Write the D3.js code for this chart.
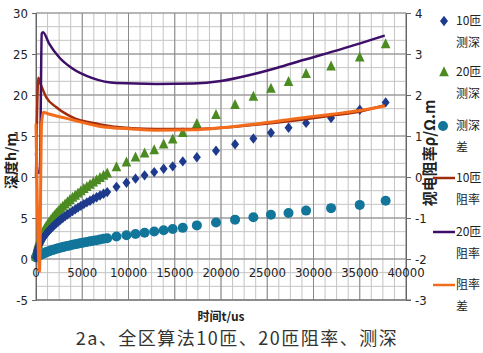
<!DOCTYPE html>
<html>
<head>
<meta charset="utf-8">
<script src="https://cdn.jsdelivr.net/npm/d3@7"></script>
<style>
body { margin: 0; background: #fff; }
svg text { font-family: "Liberation Sans Narrow", "DejaVu Sans Condensed", "Noto Sans CJK SC", sans-serif; fill: #222; }
.cjk { font-family: "Noto Sans CJK SC", sans-serif; }
</style>
</head>
<body>
<div id="chart"></div>
<script>
// sounding depth (left axis, m) at each time gate (us)
const times = [0, 40, 100, 170, 250, 340, 440, 550, 670, 800, 940, 1090, 1250, 1420, 1600, 1790, 1990, 2200, 2420, 2650, 2890, 3140, 3400, 3670, 3950, 4240, 4540, 4850, 5170, 5500, 5840, 6190, 6550, 6920, 7300, 7700, 8700, 9780, 10760, 11740, 12780, 13800, 14780, 15870, 17390, 19460, 21520, 23500, 25400, 27300, 29200, 31900, 35000, 37800];
const depth10 = [0.2, 0.6, 0.93, 1.2, 1.47, 1.71, 1.95, 2.18, 2.4, 2.63, 2.85, 3.07, 3.29, 3.5, 3.72, 3.93, 4.15, 4.36, 4.57, 4.79, 5.0, 5.21, 5.42, 5.63, 5.84, 6.05, 6.27, 6.48, 6.69, 6.9, 7.11, 7.32, 7.53, 7.74, 7.95, 8.16, 8.8, 9.3, 9.8, 10.2, 10.6, 11.0, 11.3, 11.9, 12.4, 13.2, 14.0, 14.7, 15.4, 16.0, 16.6, 17.2, 18.2, 19.1];
const depth20 = [0.3, 0.75, 1.2, 1.55, 1.88, 2.19, 2.5, 2.8, 3.08, 3.37, 3.65, 3.93, 4.2, 4.48, 4.76, 5.03, 5.31, 5.58, 5.85, 6.12, 6.4, 6.67, 6.94, 7.21, 7.48, 7.75, 8.02, 8.29, 8.56, 8.82, 9.09, 9.36, 9.63, 9.9, 10.17, 10.44, 11.2, 11.8, 12.4, 12.9, 13.3, 14.0, 14.6, 15.4, 16.5, 17.6, 18.8, 19.8, 20.8, 21.6, 22.6, 23.5, 24.6, 26.2];
const depthDiff = [0.2, 0.25, 0.3, 0.35, 0.4, 0.45, 0.5, 0.55, 0.62, 0.68, 0.75, 0.82, 0.89, 0.96, 1.03, 1.1, 1.17, 1.24, 1.31, 1.38, 1.45, 1.52, 1.59, 1.66, 1.73, 1.8, 1.87, 1.94, 2.01, 2.08, 2.15, 2.22, 2.3, 2.38, 2.46, 2.54, 2.75, 2.9, 3.05, 3.2, 3.35, 3.5, 3.65, 3.8, 4.1, 4.45, 4.8, 5.1, 5.4, 5.6, 5.9, 6.2, 6.6, 7.1];

// apparent resistivity (right axis, ohm.m)
const rhoTimes10 = [0, 250, 450, 1100, 2200, 3900, 6800, 10400, 13000, 17000, 20000, 24000, 28000, 32000, 35000, 37700];
const rho10 = [0.0, 2.42, 2.3, 1.95, 1.70, 1.46, 1.29, 1.19, 1.17, 1.17, 1.2, 1.28, 1.38, 1.5, 1.6, 1.75];
const rhoTimes20 = [0, 200, 420, 620, 760, 1400, 2500, 3900, 6100, 8700, 13000, 17000, 20000, 23000, 26000, 29000, 33000, 37700];
const rho20 = [0.58, 0.1, 0.12, 3.5, 3.53, 3.26, 2.92, 2.65, 2.41, 2.29, 2.27, 2.28, 2.34, 2.48, 2.66, 2.86, 3.12, 3.45];
const rhoTimesDiff = [0, 380, 600, 800, 1200, 3300, 6800, 10400, 13000, 17000, 20000, 24000, 28000, 32000, 35000, 37700];
const rhoDiff = [1.3, -2.3, 1.3, 1.58, 1.55, 1.43, 1.24, 1.17, 1.14, 1.15, 1.2, 1.3, 1.42, 1.53, 1.62, 1.73];

const xTicks = [0, 5000, 10000, 15000, 20000, 25000, 30000, 35000, 40000];
const leftTicks = [-5, 0, 5, 10, 15, 20, 25, 30];
const rightTicks = [-3, -2, -1, 0, 1, 2, 3, 4];
const legendLabels = [["10匝", "测深"], ["20匝", "测深"], ["测深", "差"], ["10匝", "阻率"], ["20匝", "阻率"], ["阻率", "差"]];

(function chart(){
let width = 483,
    height = 353,
    margin = ({top: 13, right: 77, bottom: 53, left: 36});

const svg = d3.select("#chart")
    .append("svg")
    .attr("width", width)
    .attr("height", height)
    .attr("viewBox", [0, 0, width, height]);

const x0 = margin.left, x1 = width - margin.right,
      y0 = height - margin.bottom, y1 = margin.top;

let x = d3.scaleLinear().domain([0, 40000]).range([x0, x1]);
let yL = d3.scaleLinear().domain([-5, 30]).range([y0, y1]);
let yR = d3.scaleLinear().domain([-3, 4]).range([y0, y1]);

// grid
const grid = svg.append("g");
grid.selectAll(".vmin")
    .data(d3.range(0, 40001, 1250))
    .join("line")
    .attr("x1", d => x(d)).attr("x2", d => x(d))
    .attr("y1", y1).attr("y2", y0)
    .attr("stroke", "#c4c4c4");
grid.selectAll(".hmin")
    .data(d3.range(0, 22).map(i => -5 + i * 5 / 3))
    .join("line")
    .attr("x1", x0).attr("x2", x1)
    .attr("y1", d => yL(d)).attr("y2", d => yL(d))
    .attr("stroke", "#c4c4c4");
grid.selectAll(".vmaj")
    .data(xTicks)
    .join("line")
    .attr("x1", d => x(d)).attr("x2", d => x(d))
    .attr("y1", y1).attr("y2", y0)
    .attr("stroke", "#8a8a8a");
grid.selectAll(".hmaj")
    .data(leftTicks)
    .join("line")
    .attr("x1", x0).attr("x2", x1)
    .attr("y1", d => yL(d)).attr("y2", d => yL(d))
    .attr("stroke", "#8a8a8a");

// axes
const axisL = g => g
    .attr("transform", `translate(${x0},0)`)
    .call(d3.axisLeft(yL).tickValues(leftTicks).tickFormat(d => String(d)).tickSize(4).tickPadding(4));
const axisR = g => g
    .attr("transform", `translate(${x1},0)`)
    .call(d3.axisRight(yR).tickValues(rightTicks).tickFormat(d => String(d)).tickSize(5).tickPadding(4));

svg.append("g").call(axisL);
svg.append("g").call(axisR);
svg.selectAll(".tick text").attr("font-size", 13).attr("fill", "#222");
svg.selectAll(".domain, .tick line").attr("stroke", "#666");

svg.append("line")
    .attr("x1", x0).attr("x2", x1 + 5)
    .attr("y1", y0).attr("y2", y0)
    .attr("stroke", "#666");

svg.append("g").selectAll("text")
    .data(xTicks)
    .join("text")
    .attr("x", d => x(d))
    .attr("y", yL(-2.2))
    .attr("text-anchor", "middle")
    .attr("font-size", 13)
    .text(d => d);

// markers
const diamond = "M0,-5.2L4,0L0,5.2L-4,0Z";
const triangle = "M0,-5.8L4.8,4.2L-4.8,4.2Z";

const marks = svg.append("g");
marks.selectAll(".c")
    .data(d3.zip(times, depthDiff))
    .join("circle")
    .attr("cx", d => x(d[0]))
    .attr("cy", d => yL(d[1]))
    .attr("r", 5)
    .attr("fill", "#12759a");
marks.selectAll(".t")
    .data(d3.zip(times, depth20))
    .join("path")
    .attr("d", triangle)
    .attr("transform", d => `translate(${x(d[0])},${yL(d[1])})`)
    .attr("fill", "#4b8b22");
marks.selectAll(".d")
    .data(d3.zip(times, depth10))
    .join("path")
    .attr("d", diamond)
    .attr("transform", d => `translate(${x(d[0])},${yL(d[1])})`)
    .attr("fill", "#1d3a8c");

// resistivity curves
const line = d3.line()
    .x(d => x(d[0]))
    .y(d => yR(d[1]))
    .curve(d3.curveMonotoneX);

const curves = [
    {t: rhoTimes10, v: rho10, color: "#a22d0e", w: 2.5},
    {t: rhoTimes20, v: rho20, color: "#3d0f68", w: 2.5},
    {t: rhoTimesDiff, v: rhoDiff, color: "#f26c1c", w: 3}
];
svg.append("g").selectAll("path")
    .data(curves)
    .join("path")
    .attr("fill", "none")
    .attr("stroke", d => d.color)
    .attr("stroke-width", d => d.w)
    .attr("d", d => line(d3.zip(d.t, d.v)));

// axis titles
svg.append("text")
    .attr("x", (x0 + x1) / 2)
    .attr("y", 321)
    .attr("text-anchor", "middle")
    .attr("font-size", 12)
    .attr("font-weight", "bold")
    .attr("class", "cjk")
    .text("时间t/us");

svg.append("text")
    .attr("transform", "translate(16,161) rotate(-90)")
    .attr("text-anchor", "middle")
    .attr("font-size", 14)
    .attr("font-weight", "bold")
    .attr("class", "cjk")
    .text("深度h/m");

svg.append("text")
    .attr("transform", "translate(435,153) rotate(-90)")
    .attr("text-anchor", "middle")
    .attr("font-size", 15)
    .attr("font-weight", "bold")
    .attr("class", "cjk")
    .text("视电阻率ρ/Ω.m");

// legend
const legendY = [21, 72, 126, 178, 232, 285];
const legend = svg.append("g").selectAll("g")
    .data(legendLabels)
    .join("g")
    .attr("transform", (d, i) => `translate(0,${legendY[i]})`);

legend.each(function(d, i) {
    const g = d3.select(this);
    if (i === 0) g.append("path").attr("d", diamond).attr("transform", "translate(444,0)").attr("fill", "#1d3a8c");
    if (i === 1) g.append("path").attr("d", triangle).attr("transform", "translate(444,0)").attr("fill", "#4b8b22");
    if (i === 2) g.append("circle").attr("cx", 443).attr("r", 5).attr("fill", "#12759a");
    if (i > 2) g.append("line")
        .attr("x1", 433).attr("x2", 455)
        .attr("stroke", curves[i - 3].color)
        .attr("stroke-width", 2.5);
});

legend.selectAll("text")
    .data(d => d)
    .join("text")
    .attr("class", "cjk")
    .attr("x", 456)
    .attr("y", (d, j) => 4 + j * 22)
    .attr("font-size", 12)
    .text(d => d);

// caption
svg.append("text")
    .attr("x", 237)
    .attr("y", 345)
    .attr("text-anchor", "middle")
    .attr("font-size", 18)
    .attr("letter-spacing", 1.5)
    .attr("class", "cjk")
    .style("fill", "#333")
    .text("2a、全区算法10匝、20匝阻率、测深");
})();
</script>
</body>
</html>
